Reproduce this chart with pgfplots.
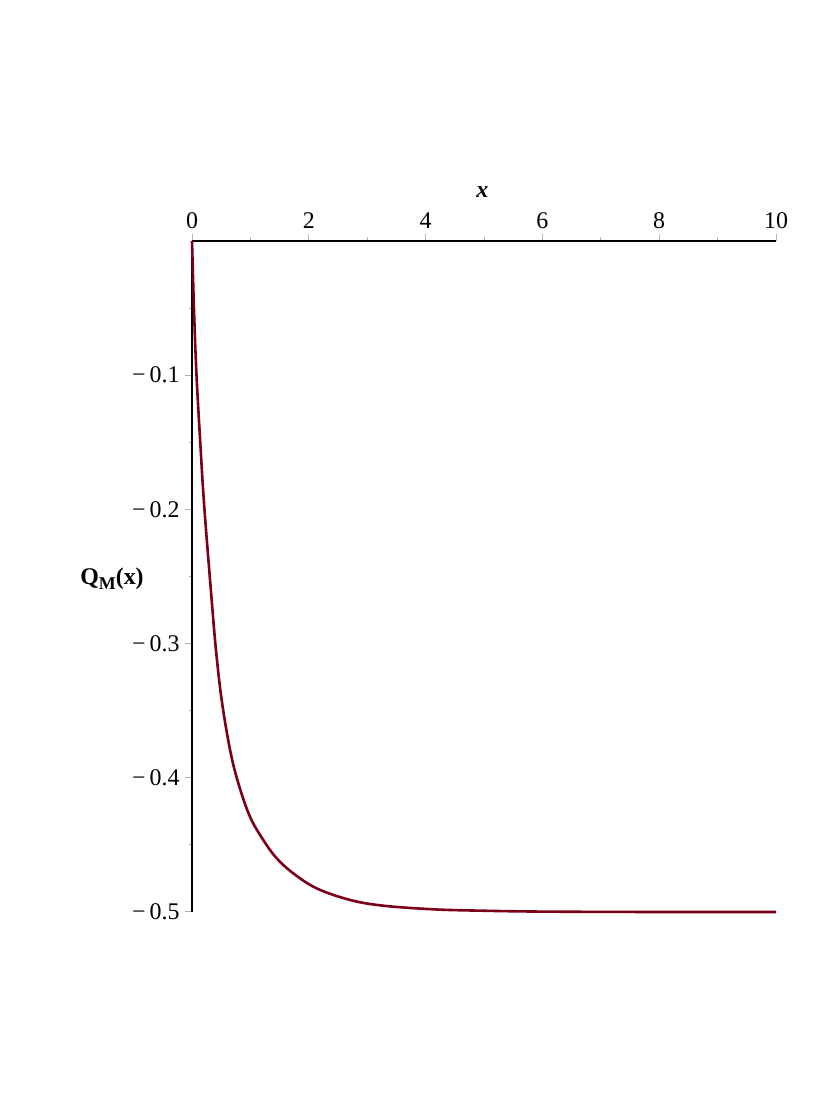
\documentclass[border=0pt]{standalone}
\usepackage{pgfplots}
\pgfplotsset{compat=1.18}
\usepackage{fontspec}
\setmainfont{Liberation Serif}
\definecolor{maplered}{RGB}{122,0,24}
\begin{document}
\begin{tikzpicture}[x=1bp,y=1bp]
\useasboundingbox (0,0) rectangle (830,1104);
\begin{axis}[
  at={(192bp,192bp)}, anchor=south west,
  scale only axis, width=584bp, height=671bp,
  xmin=0, xmax=10, ymin=-0.5, ymax=0,
  axis x line*=top, axis y line*=left,
  axis line style={line width=2bp, black, -},
  xtick={0,2,4,6,8,10}, xticklabels={0,2,4,6,8,10},
  minor xtick={1,3,5,7,9},
  ytick={-0.5,-0.4,-0.3,-0.2,-0.1},
  yticklabels={−\,0.5,−\,0.4,−\,0.3,−\,0.2,−\,0.1},
  minor ytick={-0.45,-0.35,-0.25,-0.15,-0.05},
  tick align=outside,
  major tick length=7bp, minor tick length=3.5bp,
  every tick/.style={black!30, line width=1bp},
  tick label style={font=\fontsize{24}{28}\selectfont, black},
  xticklabel style={yshift=2bp},
  yticklabel style={xshift=-2bp},
  xlabel={\textbf{\textit{x}}},
  xlabel style={font=\fontsize{24}{28}\selectfont, at={(axis description cs:0.497,1.073)}, anchor=center},
  ylabel={\textbf{Q\raisebox{-0.45ex}{\fontsize{18}{18}\selectfont M}(x)}},
  ylabel style={font=\fontsize{24}{28}\selectfont, rotate=-90, at={(axis description cs:-0.137,0.497)}, anchor=center},
  clip=false,
]
\addplot[maplered, line width=2.6bp, smooth, tension=0.6] coordinates {
(0,0) (0.035,-0.052) (0.075,-0.098) (0.14,-0.149) (0.21,-0.198)
(0.337,-0.2675) (0.411,-0.305) (0.508,-0.342) (0.651,-0.379)
(0.793,-0.404) (0.993,-0.429) (1.22,-0.4463) (1.45,-0.460)
(1.735,-0.4712) (2.135,-0.4824) (2.705,-0.491) (3.275,-0.4953)
(4.13,-0.498) (4.93,-0.499) (6,-0.4997) (8,-0.5) (10,-0.5)
};
\end{axis}
\end{tikzpicture}
\end{document}
